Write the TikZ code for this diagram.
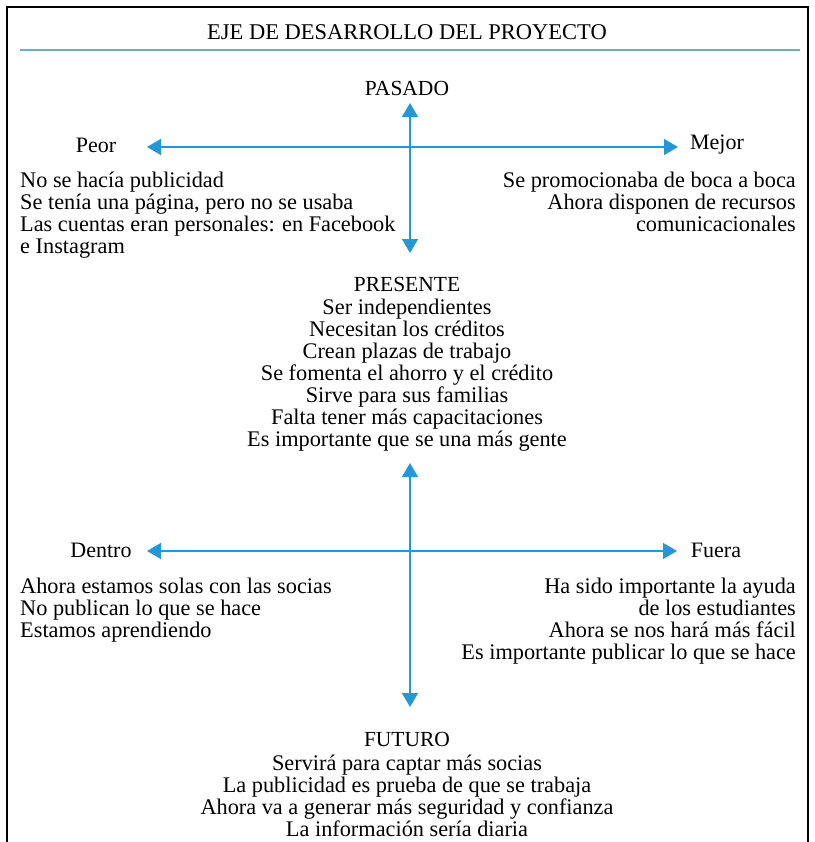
\documentclass[tikz,border=0pt]{standalone}
\usepackage{fontspec}
\setmainfont{Liberation Serif}
\usetikzlibrary{arrows.meta}

\definecolor{ejeazul}{RGB}{35,152,212}
\definecolor{ejeraya}{RGB}{110,175,190}
\tikzset{
  eje/.style={ejeazul, line width=1.6pt,
    {Triangle[length=14pt,width=16pt]}-{Triangle[length=14pt,width=16pt]}},
  titulo/.style={inner sep=0pt, font=\fontsize{22.5}{24}\selectfont},
  etiqueta/.style={inner sep=0pt, font=\fontsize{21.5}{22}\selectfont},
  lado/.style={inner sep=0pt, font=\fontsize{22}{22}\selectfont},
  lista/.style={inner sep=0pt, font=\fontsize{22.3}{22}\selectfont},
}

\begin{document}
\begin{tikzpicture}[x=1pt,y=-1pt]
      \useasboundingbox (0,0) rectangle (814,842);
      \draw[line width=1.5pt] (7,842) -- (7,7) -- (808,7) -- (808,842);
      \node[titulo] (titulo) at (407,32) {EJE DE DESARROLLO DEL PROYECTO};
      \draw[ejeraya, line width=2.2pt] (20,50) -- (800,50);

      \node[etiqueta] (pasado) at (407,88) {PASADO};
      \node[lado] (peor) at (96,145) {Peor};
      \node[lado] (mejor) at (717,145) {Mejor};
      \coordinate (ejearriba) at (410,103);
      \coordinate (ejeabajo) at (410,253);
      \coordinate (ejepeor) at (147,147);
      \coordinate (ejemejor) at (678,147);
      \draw[eje] (ejearriba) -- (ejeabajo);
      \draw[eje] (ejepeor) -- (ejemejor);
      \node[lista, anchor=north west, align=left] (listapeor) at (20,172)
        {No se hacía publicidad\\ Se tenía una página, pero no se usaba\\
         Las cuentas eran personales: en Facebook\\ e Instagram};
      \node[lista, anchor=north east, align=right] (listamejor) at (796,172)
        {Se promocionaba de boca a boca\\ Ahora disponen de recursos\\
         comunicacionales};

      \node[etiqueta] (presente) at (407,284) {PRESENTE};
      \node[lista, anchor=north, align=center] (listapresente) at (407,299)
        {Ser independientes\\ Necesitan los créditos\\ Crean plazas de trabajo\\
         Se fomenta el ahorro y el crédito\\ Sirve para sus familias\\
         Falta tener más capacitaciones\\ Es importante que se una más gente};

      \node[lado] (dentro) at (101,550) {Dentro};
      \node[lado] (fuera) at (716,550) {Fuera};
      \coordinate (ejearriba2) at (410,463);
      \coordinate (ejeabajo2) at (410,707);
      \coordinate (ejedentro) at (147,551);
      \coordinate (ejefuera) at (677,551);
      \draw[eje] (ejearriba2) -- (ejeabajo2);
      \draw[eje] (ejedentro) -- (ejefuera);
      \node[lista, anchor=north west, align=left] (listadentro) at (20,578)
        {Ahora estamos solas con las socias\\ No publican lo que se hace\\
         Estamos aprendiendo};
      \node[lista, anchor=north east, align=right] (listafuera) at (796,578)
        {Ha sido importante la ayuda\\ de los estudiantes\\
         Ahora se nos hará más fácil\\ Es importante publicar lo que se hace};

      \node[etiqueta] (futuro) at (407,739) {FUTURO};
      \node[lista, anchor=north, align=center] (listafuturo) at (407,755)
        {Servirá para captar más socias\\ La publicidad es prueba de que se trabaja\\
         Ahora va a generar más seguridad y confianza\\ La información sería diaria};
\end{tikzpicture}
\end{document}
